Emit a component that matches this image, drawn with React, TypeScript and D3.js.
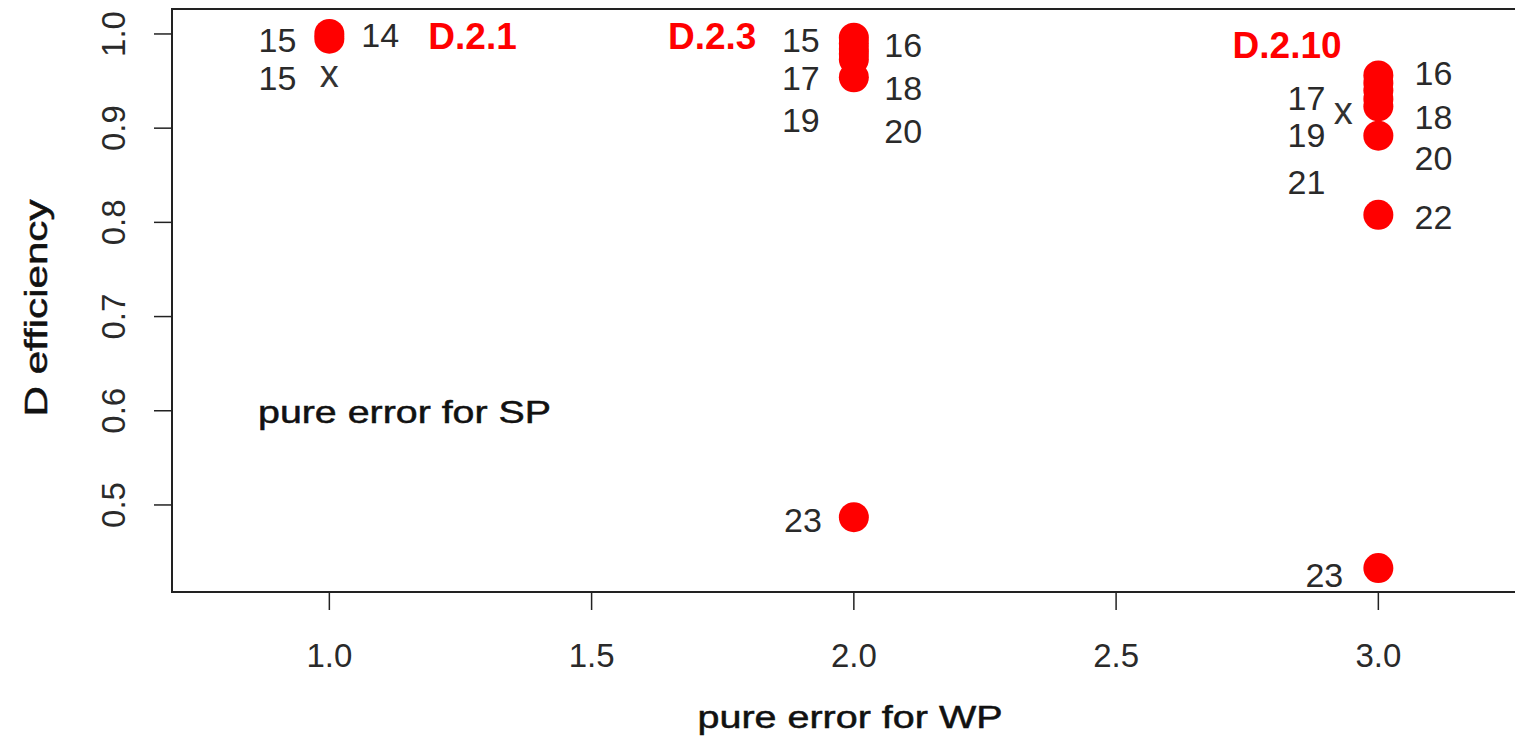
import React from 'react';
import * as d3 from 'd3';

// chart size
const width = 1515;
const height = 738;

// plot box edges (right edge runs off the picture)
const left = 172;
const top = 9;
const bottom = 592;

// axis ticks
const xTicks = [1.0, 1.5, 2.0, 2.5, 3.0];
const yTicks = [0.5, 0.6, 0.7, 0.8, 0.9, 1.0];

// red points, one array per design
const pointsD21 = [1.0, 0.995];
const pointsD23 = [0.996, 0.990, 0.984, 0.979, 0.973, 0.954, 0.487];
const pointsD210 = [0.956, 0.948, 0.940, 0.931, 0.923, 0.892, 0.808, 0.433];

// "x" markers [wp, efficiency]
const crosses = [[1.0, 0.958], [2.933, 0.918]];

// run-size labels [text, wp, efficiency]
const runLabels = [
  ['15', 0.901, 0.994], ['14', 1.097, 0.999], ['15', 0.901, 0.953],
  ['15', 1.899, 0.994], ['16', 2.094, 0.988], ['17', 1.899, 0.953],
  ['18', 2.094, 0.943], ['19', 1.899, 0.909], ['20', 2.094, 0.897],
  ['23', 1.903, 0.484],
  ['16', 3.105, 0.959], ['17', 2.863, 0.932], ['18', 3.105, 0.912],
  ['19', 2.863, 0.893], ['20', 3.105, 0.868], ['21', 2.863, 0.843],
  ['22', 3.105, 0.806], ['23', 2.897, 0.426],
];

// design names [text, wp, efficiency]
const designLabels = [
  ['D.2.1', 1.273, 0.997],
  ['D.2.3', 1.730, 0.997],
  ['D.2.10', 2.826, 0.988],
];

const font = '"Liberation Sans", Arial, sans-serif';

export default function App() {
  const x = d3.scaleLinear().domain([0.7, 3.3]).range([left, left + 2.6 * 524.5]);
  const y = d3.scaleLinear().domain([0.4076, 1.0265]).range([bottom, top]);

  const points = [
    ...pointsD21.map((v) => [1, v]),
    ...pointsD23.map((v) => [2, v]),
    ...pointsD210.map((v) => [3, v]),
  ];

  return (
    <svg width={width} height={height} style={{ position: 'absolute', left: 0, top: 0 }} fontFamily={font}>
      <rect x={0} y={0} width={width} height={height} fill="#fff" />
      {/* box */}
      <rect x={left} y={top} width={width + 50} height={bottom - top} fill="none" stroke="#222" strokeWidth={2} />

      {/* x axis */}
      {xTicks.map((t) => (
        <g key={'x' + t}>
          <line x1={x(t)} x2={x(t)} y1={bottom} y2={bottom + 18} stroke="#222" strokeWidth={1.5} />
          <text x={x(t)} y={667} textAnchor="middle" fontSize={33} fill="#2a2a2a">{t.toFixed(1)}</text>
        </g>
      ))}
      <text x={850} y={728} textAnchor="middle" fontSize={31} textLength={305} lengthAdjust="spacingAndGlyphs" fill="#111" stroke="#111" strokeWidth={0.5}>pure error for WP</text>

      {/* y axis */}
      {yTicks.map((t) => (
        <g key={'y' + t}>
          <line x1={left - 18} x2={left} y1={y(t)} y2={y(t)} stroke="#222" strokeWidth={1.5} />
          <text transform={`translate(125,${y(t)}) rotate(-90)`} textAnchor="middle" fontSize={33} fill="#2a2a2a">{t.toFixed(1)}</text>
        </g>
      ))}
      <text transform="translate(47,308) rotate(-90)" textAnchor="middle" fontSize={31} textLength={217} lengthAdjust="spacingAndGlyphs" fill="#111" stroke="#111" strokeWidth={0.5}>D efficiency</text>

      {/* points */}
      {points.map((p, i) => (
        <circle key={'p' + i} cx={x(p[0])} cy={y(p[1])} r={15} fill="#ff0000" />
      ))}
      {crosses.map((c, i) => (
        <text key={'c' + i} x={x(c[0])} y={y(c[1])} textAnchor="middle" dominantBaseline="central" fontSize={38} fill="#333">x</text>
      ))}

      {/* labels */}
      {runLabels.map((l, i) => (
        <text key={'l' + i} x={x(l[1] as number)} y={y(l[2] as number)} textAnchor="middle" dominantBaseline="central" fontSize={34} fill="#2a2a2a">{l[0]}</text>
      ))}
      {designLabels.map((l, i) => (
        <text key={'d' + i} x={x(l[1] as number)} y={y(l[2] as number)} textAnchor="middle" dominantBaseline="central" fontSize={37} fontWeight="bold" fill="#ff0000">{l[0]}</text>
      ))}

      <text x={258} y={y(0.599)} dominantBaseline="central" fontSize={32} textLength={293} lengthAdjust="spacingAndGlyphs" fill="#111" stroke="#111" strokeWidth={0.5}>pure error for SP</text>
    </svg>
  );
}
